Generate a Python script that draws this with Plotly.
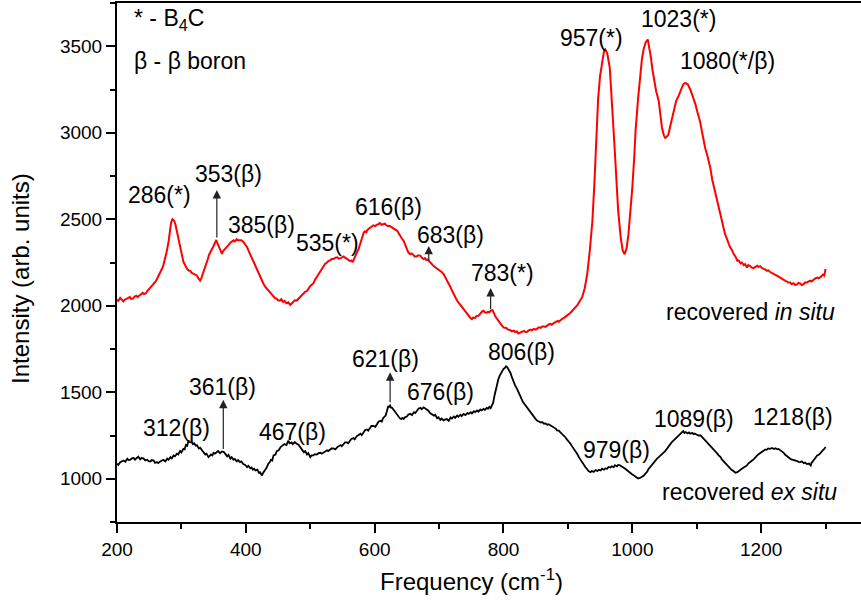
import plotly.graph_objects as go

# ---------------- data: (frequency, intensity) ----------------
red_points = [
    (200,2035),(202,2028),(205,2045),(207,2035),(210,2025),(212,2035),(215,2040),(217,2048),(220,2050),(222,2040),
    (225,2042),(227,2052),(230,2058),(232,2050),(235,2060),(237,2068),(240,2075),(242,2068),(245,2072),(247,2085),
    (250,2098),(252,2105),(255,2115),(257,2125),(260,2140),(262,2155),(265,2175),(267,2190),(270,2215),(272,2235),
    (275,2275),(277,2310),(280,2370),(281,2400),(283,2450),(284,2480),(286,2500),(287,2495),(289,2490),(291,2465),
    (293,2430),(295,2390),(297,2350),(299,2310),(301,2280),(303,2255),(305,2240),(307,2225),(309,2212),(311,2205),
    (314,2200),(316,2190),(319,2185),(321,2178),(324,2175),(326,2160),(329,2145),(331,2160),(333,2180),(335,2200),
    (337,2220),(339,2245),(341,2270),(343,2295),(345,2315),(347,2325),(350,2345),(352,2360),(354,2380),(356,2360),
    (358,2340),(360,2320),(363,2300),(365,2318),(367,2325),(369,2335),(371,2340),(373,2350),(376,2365),(378,2372),
    (381,2378),(383,2372),(386,2385),(388,2378),(391,2380),(393,2378),(396,2370),(399,2355),(402,2338),(404,2320),
    (407,2295),(409,2275),(412,2250),(414,2232),(417,2210),(419,2190),(422,2165),(424,2150),(427,2130),(430,2110),
    (433,2097),(435,2085),(438,2075),(440,2062),(443,2055),(445,2045),(448,2040),(450,2032),(453,2030),(455,2038),
    (458,2022),(460,2028),(463,2015),(466,2020),(469,2005),(471,2012),(474,2020),(476,2032),(479,2030),(482,2042),
    (485,2050),(487,2058),(490,2070),(492,2080),(495,2085),(497,2100),(500,2115),(502,2120),(505,2130),(507,2148),
    (510,2165),(513,2180),(516,2200),(518,2215),(521,2230),(523,2242),(526,2250),(528,2258),(531,2262),(533,2270),
    (536,2270),(539,2278),(542,2280),(544,2272),(547,2275),(549,2280),(552,2285),(554,2278),(557,2270),(559,2265),
    (562,2258),(564,2262),(566,2252),(568,2270),(570,2290),(572,2305),(575,2327),(577,2350),(579,2375),(581,2400),
    (583,2423),(585,2430),(587,2425),(589,2440),(591,2445),(593,2450),(596,2455),(598,2465),(601,2460),(603,2468),
    (606,2472),(608,2478),(611,2468),(613,2472),(616,2475),(618,2465),(621,2460),(623,2462),(626,2455),(628,2450),
    (631,2445),(633,2440),(635,2433),(638,2415),(640,2400),(642,2390),(645,2375),(647,2355),(650,2330),(652,2310),
    (655,2298),(657,2302),(660,2295),(662,2285),(665,2285),(668,2292),(671,2289),(673,2278),(676,2270),(678,2275),
    (680,2265),(682,2268),(684,2260),(686,2250),(689,2240),(691,2232),(693,2225),(695,2220),(697,2212),(700,2205),
    (702,2200),(704,2195),(707,2183),(709,2170),(712,2150),(715,2128),(718,2106),(720,2088),(723,2065),(725,2048),
    (728,2029),(730,2020),(733,2005),(735,1995),(738,1981),(740,1970),(743,1960),(745,1945),(747,1935),(749,1928),
    (751,1923),(753,1932),(756,1930),(758,1940),(761,1942),(763,1952),(765,1960),(767,1968),(769,1971),(771,1962),
    (774,1960),(776,1965),(778,1962),(780,1970),(783,1975),(784,1962),(786,1950),(788,1935),(790,1923),(792,1915),
    (795,1900),(797,1888),(800,1875),(802,1872),(805,1870),(807,1862),(810,1860),(813,1852),(816,1856),(818,1848),
    (821,1852),(823,1840),(826,1846),(829,1850),(832,1855),(834,1848),(837,1850),(839,1858),(842,1862),(844,1858),
    (847,1866),(850,1862),(853,1870),(855,1875),(858,1872),(860,1880),(863,1880),(865,1878),(868,1885),(870,1892),
    (873,1895),(875,1890),(878,1900),(881,1905),(884,1912),(886,1908),(889,1920),(891,1925),(894,1930),(896,1935),
    (899,1942),(901,1950),(904,1960),(906,1968),(908,1975),(910,1985),(913,1995),(915,2005),(917,2019),(919,2030),
    (922,2048),(926,2100),(930,2183),(934,2320),(938,2490),(941,2700),(943,2875),(945,3050),(947,3202),(950,3330),
    (953,3414),(956,3470),(958,3481),(961,3460),(965,3375),(968,3220),(970,3067),(973,2880),(975,2721),(978,2550),
    (982,2394),(985,2320),(988,2298),(991,2330),(994,2414),(997,2540),(1000,2683),(1003,2860),(1005,3010),(1009,3200),
    (1012,3337),(1015,3430),(1018,3490),(1021,3525),(1024,3539),(1026,3500),(1029,3433),(1031,3370),(1034,3298),(1037,3240),
    (1041,3183),(1044,3100),(1046,3029),(1049,2985),(1051,2971),(1053,2975),(1056,2990),(1059,3040),(1062,3087),(1065,3140),
    (1068,3183),(1072,3215),(1076,3260),(1079,3280),(1082,3288),(1086,3280),(1090,3250),(1094,3210),(1098,3164),(1101,3120),
    (1105,3067),(1109,2990),(1113,2913),(1117,2860),(1121,2798),(1124,2730),(1128,2664),(1132,2595),(1136,2529),(1140,2470),
    (1144,2414),(1146,2395),(1148,2370),(1150,2355),(1152,2337),(1155,2320),(1157,2300),(1160,2285),(1163,2260),(1165,2262),
    (1168,2245),(1170,2250),(1173,2235),(1175,2240),(1178,2221),(1180,2235),(1183,2230),(1185,2222),(1188,2218),(1191,2225),
    (1194,2231),(1196,2225),(1199,2228),(1201,2218),(1204,2215),(1206,2210),(1209,2202),(1211,2205),(1214,2195),(1217,2190),
    (1220,2185),(1222,2180),(1225,2173),(1227,2168),(1230,2160),(1232,2158),(1235,2150),(1237,2145),(1240,2140),(1242,2135),
    (1245,2135),(1247,2125),(1250,2130),(1253,2120),(1256,2125),(1258,2132),(1261,2128),(1263,2120),(1266,2125),(1268,2135),
    (1271,2135),(1273,2140),(1276,2145),(1278,2140),(1281,2150),(1284,2158),(1287,2163),(1289,2158),(1292,2165),(1294,2172),
    (1296,2180),(1298,2175),(1300,2212),
]

black_points = [
    (200,1087),(202,1080),(205,1095),(207,1100),(210,1105),(213,1098),(216,1116),(218,1108),(221,1110),(223,1118),
    (226,1120),(228,1110),(231,1125),(233,1128),(236,1112),(238,1120),(241,1118),(244,1106),(247,1110),(249,1102),
    (252,1100),(254,1108),(257,1105),(259,1092),(262,1096),(264,1090),(267,1100),(270,1105),(272,1110),(275,1100),
    (278,1116),(280,1110),(283,1125),(285,1118),(288,1135),(290,1130),(293,1145),(295,1140),(298,1160),(300,1152),
    (303,1173),(305,1170),(307,1195),(309,1190),(311,1221),(313,1212),(315,1210),(316,1215),(318,1200),(320,1205),
    (322,1192),(324,1195),(327,1175),(329,1180),(332,1164),(334,1158),(337,1140),(339,1145),(342,1125),(344,1132),
    (346,1140),(348,1135),(350,1150),(352,1145),(355,1154),(357,1160),(360,1148),(363,1158),(366,1154),(368,1145),
    (371,1130),(373,1138),(376,1116),(378,1125),(381,1110),(383,1115),(386,1100),(388,1108),(391,1096),(393,1100),
    (396,1085),(399,1080),(402,1067),(404,1075),(407,1060),(409,1065),(411,1052),(413,1058),(415,1048),(418,1052),
    (420,1035),(422,1038),(425,1019),(427,1035),(430,1050),(432,1062),(435,1087),(437,1095),(439,1110),(441,1105),
    (443,1135),(446,1140),(448,1160),(451,1165),(454,1183),(457,1190),(460,1200),(463,1195),(466,1221),(468,1205),
    (471,1210),(473,1200),(476,1212),(478,1205),(480,1202),(482,1195),(485,1180),(487,1170),(490,1154),(492,1160),
    (495,1140),(497,1148),(500,1125),(502,1135),(505,1135),(507,1142),(510,1140),(513,1148),(516,1150),(518,1145),
    (521,1154),(523,1160),(526,1165),(528,1160),(531,1168),(533,1175),(536,1175),(539,1170),(542,1183),(544,1190),
    (547,1195),(549,1188),(552,1200),(554,1210),(557,1210),(559,1205),(562,1221),(564,1230),(567,1235),(569,1228),
    (572,1245),(575,1255),(578,1260),(580,1252),(583,1269),(585,1280),(588,1285),(590,1278),(593,1295),(595,1305),
    (598,1305),(601,1300),(604,1318),(606,1330),(609,1335),(611,1330),(613,1350),(615,1355),(617,1365),(619,1390),
    (621,1420),(622,1415),(624,1423),(625,1412),(627,1410),(629,1400),(631,1390),(634,1375),(637,1356),(639,1350),
    (641,1345),(643,1352),(645,1346),(647,1355),(650,1360),(652,1370),(655,1375),(658,1368),(661,1385),(663,1380),
    (666,1395),(668,1405),(671,1410),(673,1402),(676,1413),(678,1408),(681,1400),(683,1395),(686,1380),(689,1372),
    (692,1365),(694,1370),(697,1350),(699,1355),(702,1340),(704,1348),(707,1337),(709,1342),(712,1345),(715,1335),
    (718,1355),(720,1348),(723,1360),(725,1352),(728,1365),(730,1358),(733,1370),(735,1362),(738,1375),(741,1368),
    (744,1380),(746,1375),(749,1385),(751,1378),(754,1390),(756,1385),(759,1395),(761,1388),(764,1400),(766,1395),
    (769,1404),(771,1398),(774,1410),(776,1405),(778,1415),(780,1408),(782,1423),(784,1440),(786,1480),(788,1515),
    (790,1548),(792,1575),(794,1595),(796,1610),(798,1625),(800,1635),(802,1640),(804,1650),(806,1644),(807,1638),
    (809,1625),(811,1610),(813,1587),(815,1565),(818,1540),(821,1520),(824,1491),(827,1470),(830,1445),(833,1430),
    (837,1404),(840,1395),(843,1375),(845,1365),(848,1350),(850,1345),(852,1337),(855,1332),(858,1325),(860,1328),
    (863,1318),(865,1320),(868,1312),(870,1315),(873,1308),(876,1300),(878,1295),(881,1290),(883,1280),(886,1278),
    (888,1269),(891,1260),(893,1250),(896,1240),(899,1225),(901,1218),(904,1202),(906,1190),(909,1175),(912,1160),
    (915,1140),(917,1125),(920,1106),(922,1095),(925,1080),(927,1068),(930,1055),(932,1045),(935,1038),(937,1045),
    (940,1040),(943,1050),(946,1045),(948,1052),(951,1048),(953,1058),(956,1052),(958,1060),(961,1058),(963,1068),
    (966,1065),(968,1072),(971,1067),(973,1078),(976,1072),(978,1080),(981,1077),(983,1070),(986,1065),(989,1058),
    (992,1048),(994,1040),(997,1030),(999,1028),(1002,1020),(1004,1015),(1007,1010),(1009,1002),(1012,1005),(1015,1010),
    (1018,1019),(1020,1028),(1023,1040),(1025,1055),(1028,1070),(1030,1082),(1033,1096),(1035,1102),(1038,1115),(1041,1125),
    (1044,1135),(1046,1145),(1049,1154),(1051,1160),(1054,1175),(1056,1188),(1059,1200),(1061,1210),(1064,1221),(1066,1230),
    (1068,1240),(1070,1248),(1073,1255),(1075,1262),(1077,1269),(1079,1275),(1081,1265),(1083,1270),(1086,1262),(1088,1268),
    (1090,1260),(1093,1265),(1095,1258),(1097,1262),(1100,1255),(1103,1250),(1106,1250),(1108,1242),(1111,1235),(1113,1225),
    (1116,1215),(1118,1205),(1121,1192),(1123,1182),(1126,1170),(1129,1158),(1132,1145),(1134,1135),(1137,1125),(1139,1112),
    (1142,1100),(1144,1092),(1147,1080),(1149,1070),(1152,1058),(1154,1052),(1157,1045),(1160,1035),(1163,1038),(1165,1045),
    (1168,1050),(1170,1058),(1173,1065),(1175,1070),(1178,1077),(1180,1088),(1183,1095),(1186,1105),(1189,1115),(1191,1125),
    (1194,1135),(1196,1142),(1199,1150),(1201,1155),(1204,1160),(1206,1168),(1209,1168),(1211,1175),(1214,1173),(1217,1178),
    (1220,1172),(1222,1176),(1225,1170),(1227,1172),(1230,1164),(1232,1160),(1235,1150),(1237,1140),(1240,1130),(1242,1122),
    (1245,1116),(1247,1112),(1250,1110),(1253,1105),(1256,1102),(1258,1098),(1261,1096),(1263,1100),(1266,1090),(1268,1094),
    (1271,1085),(1274,1088),(1277,1077),(1278,1090),(1280,1100),(1282,1112),(1284,1120),(1286,1128),(1287,1135),(1290,1140),
    (1292,1150),(1294,1155),(1296,1165),(1298,1172),(1300,1183),
]

red_freq = [p[0] for p in red_points]
red_int = [p[1] for p in red_points]
black_freq = [p[0] for p in black_points]
black_int = [p[1] for p in black_points]

peak_texts = ["286(*)", "353(β)", "385(β)", "535(*)", "616(β)", "683(β)", "783(*)",
              "957(*)", "1023(*)", "1080(*/β)",
              "312(β)", "361(β)", "467(β)", "621(β)", "676(β)", "806(β)",
              "979(β)", "1089(β)", "1218(β)"]

x_tick_vals = [200, 400, 600, 800, 1000, 1200]
y_tick_vals = [1000, 1500, 2000, 2500, 3000, 3500]

# ---------------- layout helpers ----------------
label_pos = [(266, 2640), (373, 2761), (424, 2467), (527, 2365), (621, 2571), (718, 2410), (799, 2192),
             (936, 3548), (1071, 3656), (1148, 3412),
             (292, 1293), (364, 1533), (472, 1273), (617, 1694), (702, 1504), (828, 1735),
             (976, 1169), (1096, 1343), (1249, 1356)]
# arrows: (x, tail_y, head_y)
arrows = [(355, 2386, 2669), (684, 2250, 2346), (780, 1971, 2102),
          (365, 1164, 1456), (624, 1433, 1615)]

FONT = "Liberation Sans, Arial, sans-serif"

fig = go.Figure()
fig.add_trace(go.Scatter(x=red_freq, y=red_int, mode="lines",
                         line=dict(color="#ff0000", width=2), hoverinfo="skip"))
fig.add_trace(go.Scatter(x=black_freq, y=black_int, mode="lines",
                         line=dict(color="#000000", width=1.8), hoverinfo="skip"))

ann = []
for t, (x, y) in zip(peak_texts, label_pos):
    ann.append(dict(x=x, y=y, xref="x", yref="y", text=t, showarrow=False,
                    xanchor="center", yanchor="middle",
                    font=dict(family=FONT, size=23, color="black")))
for (x, y0, y1) in arrows:
    ann.append(dict(x=x, y=y1, ax=x, ay=y0, xref="x", yref="y", axref="x", ayref="y",
                    text="", showarrow=True, arrowhead=2, arrowsize=1.4, arrowwidth=1.2,
                    arrowcolor="#222222", standoff=0, startstandoff=0))
ann.append(dict(x=1183, y=1965, xref="x", yref="y", text="recovered <i>in situ</i>",
                showarrow=False, xanchor="center", yanchor="middle",
                font=dict(family=FONT, size=23, color="black")))
ann.append(dict(x=1182, y=923, xref="x", yref="y", text="recovered <i>ex situ</i>",
                showarrow=False, xanchor="center", yanchor="middle",
                font=dict(family=FONT, size=23, color="black")))
ann.append(dict(x=223, y=3656, xref="x", yref="y", text="* - B<sub>4</sub>C",
                showarrow=False, xanchor="left", yanchor="middle",
                font=dict(family=FONT, size=23, color="black")))
ann.append(dict(x=223, y=3412, xref="x", yref="y", text="β - β boron",
                showarrow=False, xanchor="left", yanchor="middle",
                font=dict(family=FONT, size=23, color="black")))
# axis titles
ann.append(dict(x=(471 - 117) / 744, y=(522 - 580) / 519, xref="paper", yref="paper",
                text="Frequency (cm<sup>-1</sup>)", showarrow=False,
                xanchor="center", yanchor="middle",
                font=dict(family=FONT, size=24, color="black")))
ann.append(dict(x=(20 - 117) / 744, y=(522 - 279) / 519, xref="paper", yref="paper",
                text="Intensity (arb. units)", showarrow=False, textangle=-90,
                xanchor="center", yanchor="middle",
                font=dict(family=FONT, size=24, color="black")))

fig.update_layout(
    width=861, height=609,
    margin=dict(l=117, r=0, t=3, b=87),
    paper_bgcolor="white", plot_bgcolor="white",
    showlegend=False,
    annotations=ann,
    xaxis=dict(range=[200, 1355], showline=True, linewidth=2, linecolor="black", mirror=True,
               ticks="outside", ticklen=9, tickwidth=1.5, tickcolor="black",
               tickvals=x_tick_vals, ticktext=[str(v) for v in x_tick_vals],
               minor=dict(dtick=100, tick0=200, ticks="outside", ticklen=5, tickwidth=1.5,
                          tickcolor="black", showgrid=False),
               showgrid=False, zeroline=False,
               tickfont=dict(family=FONT, size=19, color="black")),
    yaxis=dict(range=[750, 3750], showline=True, linewidth=2, linecolor="black",
               ticks="outside", ticklen=9, tickwidth=1.5, tickcolor="black",
               tickvals=y_tick_vals, ticktext=[str(v) for v in y_tick_vals],
               minor=dict(dtick=250, tick0=750, ticks="outside", ticklen=5, tickwidth=1.5,
                          tickcolor="black", showgrid=False),
               showgrid=False, zeroline=False,
               tickfont=dict(family=FONT, size=19, color="black")),
)

fig.write_html("out.html")
